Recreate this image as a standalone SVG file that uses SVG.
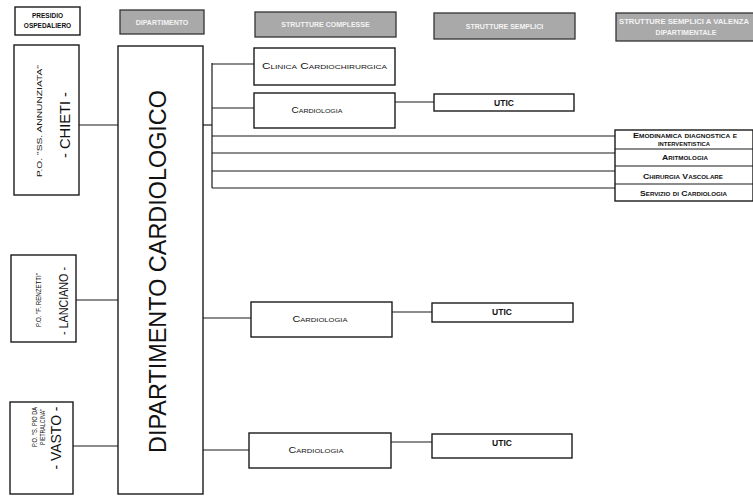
<svg xmlns="http://www.w3.org/2000/svg" width="753" height="498" viewBox="0 0 753 498">
<style>
.box{fill:#fff;stroke:#1a1a1a;stroke-width:1.4}
.hdr{fill:#a9a9a9;stroke:#333;stroke-width:1.3}
.ln{stroke:#1a1a1a;stroke-width:1.2;fill:none}
text{font-family:"Liberation Sans",Arial,sans-serif;fill:#111}
.ht{font-size:7px;font-weight:bold;fill:#f4f4f4;text-anchor:middle}
.pt{font-size:6.5px;font-weight:bold;text-anchor:middle}
.sc{font-size:8.5px;font-variant:small-caps;text-anchor:middle}
.rc{font-size:7px;font-variant:small-caps;font-weight:bold;text-anchor:middle}
</style>
<rect width="753" height="498" fill="#fff"/>

<g id="hdr-presidio">
<rect class="box" x="15" y="7" width="65" height="28"/>
<text class="pt" x="47.5" y="17.5">PRESIDIO</text>
<text class="pt" x="47.5" y="28">OSPEDALIERO</text>
</g>
<g id="hdr-dipartimento">
<rect class="hdr" x="120" y="10" width="84" height="24"/>
<text class="ht" x="162" y="24.5">DIPARTIMENTO</text>
</g>
<g id="hdr-complesse">
<rect class="hdr" x="255" y="12" width="141" height="25"/>
<text class="ht" x="325.5" y="27">STRUTTURE COMPLESSE</text>
</g>
<g id="hdr-semplici">
<rect class="hdr" x="434" y="13" width="141" height="26"/>
<text class="ht" x="504.5" y="28.5">STRUTTURE SEMPLICI</text>
</g>
<g id="hdr-dipartimentali">
<rect class="hdr" x="616" y="13" width="138" height="28"/>
<text class="ht" x="684" y="24" textLength="130" lengthAdjust="spacingAndGlyphs">STRUTTURE SEMPLICI A VALENZA</text>
<text class="ht" x="686" y="35">DIPARTIMENTALE</text>
</g>

<g id="connectors">
<line class="ln" x1="79" y1="125" x2="118" y2="125"/>
<line class="ln" x1="76" y1="300" x2="118" y2="300"/>
<line class="ln" x1="73" y1="446" x2="118" y2="446"/>
<line class="ln" x1="203" y1="125" x2="212" y2="125"/>
<line class="ln" x1="212" y1="63" x2="212" y2="188"/>
<line class="ln" x1="212" y1="64" x2="254" y2="64"/>
<line class="ln" x1="212" y1="108" x2="254" y2="108"/>
<line class="ln" x1="395" y1="102" x2="434" y2="102"/>
<line class="ln" x1="212" y1="136" x2="615" y2="136"/>
<line class="ln" x1="212" y1="153" x2="615" y2="153"/>
<line class="ln" x1="212" y1="171" x2="615" y2="171"/>
<line class="ln" x1="212" y1="188" x2="615" y2="188"/>
<line class="ln" x1="203" y1="318" x2="251" y2="318"/>
<line class="ln" x1="392" y1="312" x2="432" y2="312"/>
<line class="ln" x1="203" y1="450" x2="249" y2="450"/>
<line class="ln" x1="391" y1="442" x2="432" y2="442"/>
</g>

<g id="po-chieti">
<rect class="box" x="14" y="45" width="65" height="150"/>
<text transform="translate(42,121) rotate(-90)" style="font-size:8px;text-anchor:middle" textLength="112" lengthAdjust="spacingAndGlyphs">P.O. "SS. ANNUNZIATA"</text>
<text transform="translate(70,125) rotate(-90)" style="font-size:15px;text-anchor:middle" textLength="66" lengthAdjust="spacingAndGlyphs">- CHIETI -</text>
</g>
<g id="po-lanciano">
<rect class="box" x="11" y="255" width="65" height="87"/>
<text transform="translate(41,300) rotate(-90)" style="font-size:7.5px;text-anchor:middle" textLength="54" lengthAdjust="spacingAndGlyphs">P.O. "F. RENZETTI"</text>
<text transform="translate(68,301) rotate(-90)" style="font-size:12px;text-anchor:middle" textLength="68" lengthAdjust="spacingAndGlyphs">- LANCIANO -</text>
</g>
<g id="po-vasto">
<rect class="box" x="10" y="402" width="63" height="92"/>
<text transform="translate(37,427) rotate(-90)" style="font-size:7px;text-anchor:middle" textLength="40" lengthAdjust="spacingAndGlyphs">P.O. "S. PIO DA</text>
<text transform="translate(45,427) rotate(-90)" style="font-size:7px;text-anchor:middle" textLength="36" lengthAdjust="spacingAndGlyphs">PIETRALCINA"</text>
<text transform="translate(61,438) rotate(-90)" style="font-size:15px;text-anchor:middle" textLength="63" lengthAdjust="spacingAndGlyphs">- VASTO -</text>
</g>

<g id="dipartimento-cardiologico">
<rect class="box" x="118" y="46" width="85" height="448"/>
<text transform="translate(166,271.5) rotate(-90)" style="font-size:23px;text-anchor:middle" textLength="363" lengthAdjust="spacingAndGlyphs">DIPARTIMENTO CARDIOLOGICO</text>
</g>

<g id="clinica-cardiochirurgica">
<rect class="box" x="254" y="48" width="141" height="37"/>
<text class="sc" x="324.5" y="69" textLength="125" lengthAdjust="spacingAndGlyphs">Clinica Cardiochirurgica</text>
</g>
<g id="cardiologia-chieti">
<rect class="box" x="254" y="93" width="141" height="35"/>
<text class="sc" x="317" y="113" textLength="51" lengthAdjust="spacingAndGlyphs">Cardiologia</text>
</g>
<g id="utic-chieti">
<rect class="box" x="434" y="94" width="140" height="17"/>
<text class="sc" x="504" y="105.5" style="font-weight:bold">UTIC</text>
</g>

<g id="strutture-dipartimentali">
<rect class="box" x="615" y="130" width="138" height="71"/>
<line class="ln" x1="615" y1="149" x2="753" y2="149"/>
<line class="ln" x1="615" y1="166" x2="753" y2="166"/>
<line class="ln" x1="615" y1="184" x2="753" y2="184"/>
<text class="rc" x="685" y="137.5" textLength="104" lengthAdjust="spacingAndGlyphs">Emodinamica diagnostica e</text>
<text class="rc" x="684" y="146" textLength="52" lengthAdjust="spacingAndGlyphs">interventistica</text>
<text class="rc" x="685" y="160" textLength="46" lengthAdjust="spacingAndGlyphs">Aritmologia</text>
<text class="rc" x="683" y="178.5" textLength="80" lengthAdjust="spacingAndGlyphs">Chirurgia Vascolare</text>
<text class="rc" x="683.5" y="195.5" textLength="87" lengthAdjust="spacingAndGlyphs">Servizio di Cardiologia</text>
</g>

<g id="cardiologia-lanciano">
<rect class="box" x="251" y="302" width="141" height="35"/>
<text class="sc" x="320" y="322" textLength="55" lengthAdjust="spacingAndGlyphs">Cardiologia</text>
</g>
<g id="utic-lanciano">
<rect class="box" x="432" y="303" width="141" height="19"/>
<text class="sc" x="502" y="315" style="font-weight:bold">UTIC</text>
</g>
<g id="cardiologia-vasto">
<rect class="box" x="249" y="433" width="142" height="35"/>
<text class="sc" x="316" y="453" textLength="55" lengthAdjust="spacingAndGlyphs">Cardiologia</text>
</g>
<g id="utic-vasto">
<rect class="box" x="432" y="434" width="140" height="24"/>
<text class="sc" x="502" y="446" style="font-weight:bold">UTIC</text>
</g>
</svg>
